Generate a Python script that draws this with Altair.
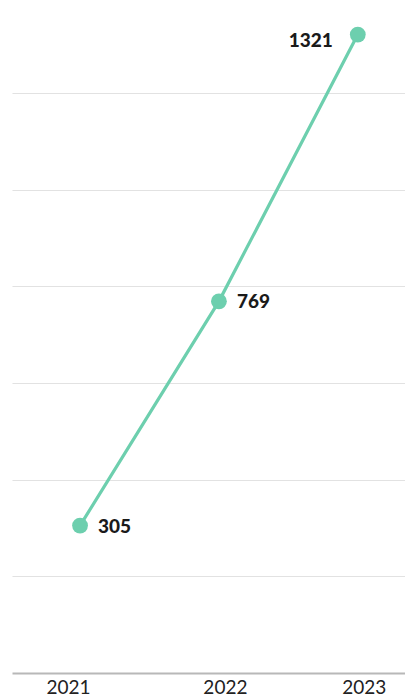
import altair as alt
import pandas as pd

years = [2021, 2022, 2023]
values = [305, 769, 1321]
y_ticks = [200, 400, 600, 800, 1000, 1200]

df = pd.DataFrame({"year": years, "value": values})

COLOR = "#6dcfae"
FONT = "Lato"

x = alt.X(
    "year:Q",
    scale=alt.Scale(domain=[2020.51, 2023.34], nice=False, zero=False),
    axis=alt.Axis(
        values=years,
        format="d",
        title=None,
        grid=False,
        ticks=False,
        domain=True,
        domainColor="#b8b8b8",
        domainWidth=2,
        labelFont=FONT,
        labelFontSize=19,
        labelColor="#222222",
        labelPadding=5,
        labelOffset={"condition": {"test": "datum.value == 2021", "value": -12}, "value": 6},
        labelFlush=False,
    ),
)
y = alt.Y(
    "value:Q",
    scale=alt.Scale(domain=[0, 1376], nice=False),
    axis=alt.Axis(
        values=y_ticks,
        title=None,
        labels=False,
        ticks=False,
        domain=False,
        grid=True,
        gridColor="#e2e2e2",
        gridWidth=1.2,
    ),
)

base = alt.Chart(df).encode(x=x, y=y)

line = base.mark_line(color=COLOR, strokeWidth=3.2)
points = base.mark_circle(color=COLOR, size=250, opacity=1)
labels_right = base.transform_filter("datum.year < 2023").mark_text(
    align="left", baseline="middle", dx=18, dy=1, font=FONT, fontSize=19,
    fontWeight=900, color="#1a1a1a"
).encode(text="value:Q")
labels_left = base.transform_filter("datum.year == 2023").mark_text(
    align="right", baseline="middle", dx=-25, dy=6, font=FONT, fontSize=19,
    fontWeight=900, color="#1a1a1a"
).encode(text="value:Q")

chart = (
    alt.layer(line, points, labels_right, labels_left)
    .properties(
        width=393,
        height=665,
        padding={"left": 4, "top": 0, "right": 0, "bottom": 26},
        autosize=alt.AutoSizeParams(type="none"),
    )
    .configure_view(stroke=None)
)

chart.save("out.html", embed_options={"renderer": "svg", "actions": False})
